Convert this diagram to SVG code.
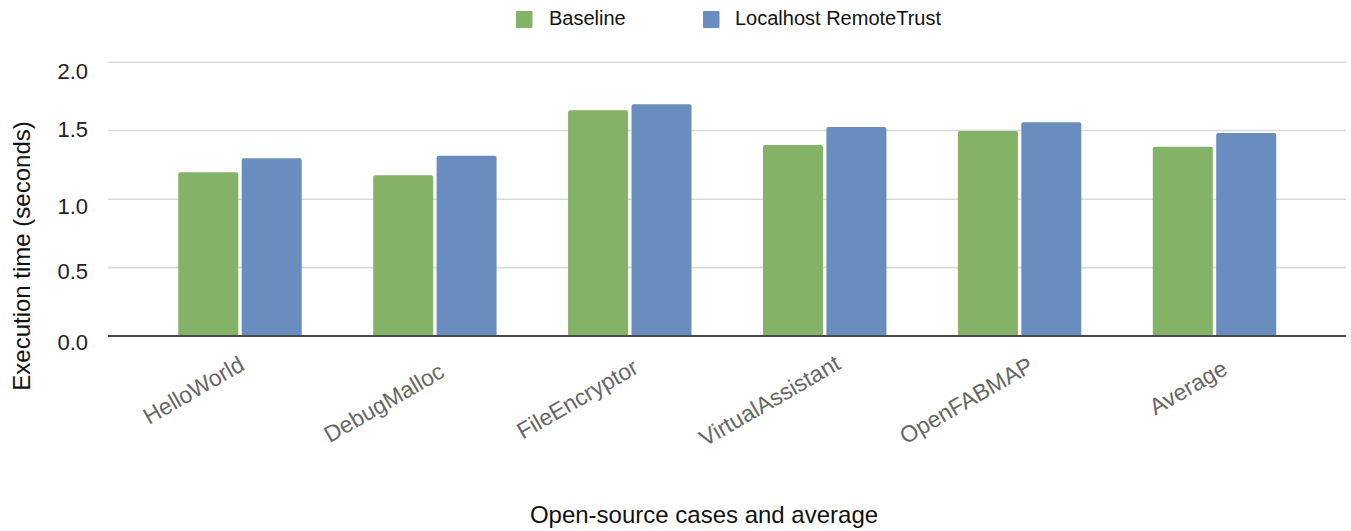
<svg xmlns="http://www.w3.org/2000/svg" width="1351" height="531" viewBox="0 0 1351 531">
  <style>
    text { font-family: "Liberation Sans", Arial, sans-serif; }
    .grid { stroke: #d9d9d9; stroke-width: 1.6; }
    .axis { stroke: #4a4a4a; stroke-width: 1.8; }
    .tick { font-size: 22px; fill: #222; text-anchor: end; }
    .cat { font-size: 23px; fill: #666; text-anchor: end; }
    .title { font-size: 24px; fill: #111; text-anchor: middle; }
    .legend { font-size: 20px; fill: #111; }
    .base { fill: #84b367; }
    .rt { fill: #6a8dbf; }
  </style>

  <rect width="1351" height="531" fill="#ffffff"/>

  <!-- legend -->
  <g id="legend">
    <rect class="base" x="516" y="11" width="16.5" height="17" rx="1"/>
    <text class="legend" x="549" y="25">Baseline</text>
    <rect class="rt" x="703" y="11" width="16.5" height="17" rx="1"/>
    <text class="legend" x="735" y="25">Localhost RemoteTrust</text>
  </g>

  <!-- gridlines and value labels -->
  <g id="y-axis">
    <line class="grid" x1="108" y1="62.3" x2="1346" y2="62.3"/>
    <line class="grid" x1="108" y1="130.5" x2="1346" y2="130.5"/>
    <line class="grid" x1="108" y1="199.3" x2="1346" y2="199.3"/>
    <line class="grid" x1="108" y1="267.6" x2="1346" y2="267.6"/>
    <text class="tick" x="88" y="79">2.0</text>
    <text class="tick" x="88" y="137">1.5</text>
    <text class="tick" x="88" y="214">1.0</text>
    <text class="tick" x="88" y="279">0.5</text>
    <text class="tick" x="88" y="350">0.0</text>
    <text class="title" transform="translate(30,256) rotate(-90)">Execution time (seconds)</text>
  </g>

  <!-- bars: top corners rounded, bottoms on the axis -->
  <g id="HelloWorld">
    <path class="base" d="M178.3,336 V174.3 q0,-2 2,-2 H236.3 q2,0 2,2 V336 Z"/>
    <path class="rt" d="M241.7,336 V160.3 q0,-2 2,-2 H299.7 q2,0 2,2 V336 Z"/>
    <text class="cat" transform="translate(246,369) rotate(-30)">HelloWorld</text>
  </g>
  <g id="DebugMalloc">
    <path class="base" d="M373.2,336 V177.3 q0,-2 2,-2 H431.2 q2,0 2,2 V336 Z"/>
    <path class="rt" d="M436.6,336 V157.7 q0,-2 2,-2 H494.6 q2,0 2,2 V336 Z"/>
    <text class="cat" transform="translate(446,376) rotate(-30)">DebugMalloc</text>
  </g>
  <g id="FileEncryptor">
    <path class="base" d="M568.1,336 V112.3 q0,-2 2,-2 H626.1 q2,0 2,2 V336 Z"/>
    <path class="rt" d="M631.5,336 V106.3 q0,-2 2,-2 H689.5 q2,0 2,2 V336 Z"/>
    <text class="cat" transform="translate(640,372) rotate(-30)">FileEncryptor</text>
  </g>
  <g id="VirtualAssistant">
    <path class="base" d="M763,336 V147 q0,-2 2,-2 H821 q2,0 2,2 V336 Z"/>
    <path class="rt" d="M826.4,336 V129 q0,-2 2,-2 H884.4 q2,0 2,2 V336 Z"/>
    <text class="cat" transform="translate(842,368) rotate(-30)">VirtualAssistant</text>
  </g>
  <g id="OpenFABMAP">
    <path class="base" d="M957.9,336 V133 q0,-2 2,-2 H1015.9 q2,0 2,2 V336 Z"/>
    <path class="rt" d="M1021.3,336 V124.3 q0,-2 2,-2 H1079.3 q2,0 2,2 V336 Z"/>
    <text class="cat" transform="translate(1035,370) rotate(-30)">OpenFABMAP</text>
  </g>
  <g id="Average">
    <path class="base" d="M1152.8,336 V148.7 q0,-2 2,-2 H1210.8 q2,0 2,2 V336 Z"/>
    <path class="rt" d="M1216.2,336 V135 q0,-2 2,-2 H1274.2 q2,0 2,2 V336 Z"/>
    <text class="cat" transform="translate(1229,373) rotate(-30)">Average</text>
  </g>

  <!-- category axis -->
  <g id="x-axis">
    <line class="axis" x1="108" y1="336" x2="1346" y2="336"/>
    <text class="title" x="704" y="523">Open-source cases and average</text>
  </g>
</svg>
